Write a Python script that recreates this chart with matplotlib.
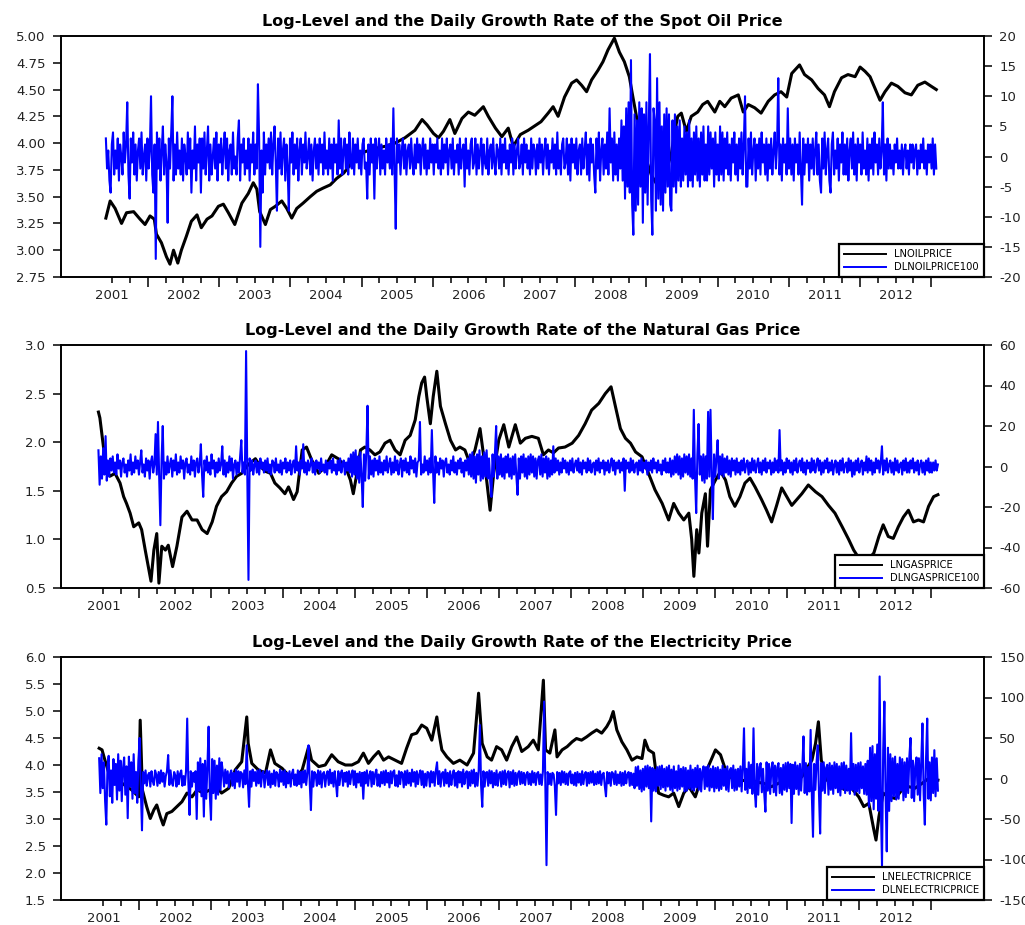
import numpy as np
import matplotlib
matplotlib.use("Agg")
import matplotlib.pyplot as plt
from matplotlib.ticker import FormatStrFormatter

plt.rcParams["font.family"] = ["DejaVu Sans"]
plt.rcParams["axes.unicode_minus"] = False
plt.rcParams["path.simplify"] = False

# ----------------------------
# Log-levels: (position in years, value)
# ----------------------------

LN_OIL = [
    (2000.91, 3.30), (2000.97, 3.46), (2001.04, 3.39), (2001.13, 3.25), (2001.20, 3.35),
    (2001.30, 3.36), (2001.39, 3.29), (2001.46, 3.24), (2001.53, 3.32), (2001.59, 3.29),
    (2001.62, 3.15), (2001.69, 3.07), (2001.76, 2.94), (2001.81, 2.87), (2001.86, 3.00),
    (2001.92, 2.88), (2001.97, 3.00), (2002.04, 3.13), (2002.11, 3.27), (2002.19, 3.33),
    (2002.25, 3.21), (2002.33, 3.29), (2002.40, 3.32), (2002.49, 3.41), (2002.56, 3.43),
    (2002.63, 3.35), (2002.72, 3.24), (2002.82, 3.44), (2002.91, 3.53), (2002.98, 3.63),
    (2003.03, 3.57), (2003.07, 3.36), (2003.15, 3.24), (2003.22, 3.38), (2003.29, 3.41),
    (2003.38, 3.46), (2003.45, 3.39), (2003.52, 3.30), (2003.59, 3.39), (2003.68, 3.44),
    (2003.78, 3.50), (2003.87, 3.55), (2003.96, 3.58), (2004.06, 3.61), (2004.15, 3.67),
    (2004.25, 3.72), (2004.32, 3.78), (2004.41, 3.87), (2004.55, 3.92), (2004.69, 3.95),
    (2004.83, 3.97), (2004.97, 4.00), (2005.11, 4.05), (2005.25, 4.12), (2005.35, 4.22),
    (2005.42, 4.17), (2005.51, 4.09), (2005.58, 4.05), (2005.65, 4.11), (2005.74, 4.22),
    (2005.81, 4.09), (2005.91, 4.23), (2006.00, 4.29), (2006.09, 4.26), (2006.21, 4.34),
    (2006.28, 4.25), (2006.38, 4.14), (2006.47, 4.06), (2006.56, 4.14), (2006.63, 3.97),
    (2006.73, 4.08), (2006.84, 4.12), (2006.93, 4.16), (2007.02, 4.20), (2007.12, 4.28),
    (2007.19, 4.34), (2007.26, 4.25), (2007.35, 4.43), (2007.45, 4.56), (2007.52, 4.59),
    (2007.59, 4.54), (2007.66, 4.48), (2007.73, 4.59), (2007.82, 4.68), (2007.89, 4.76),
    (2007.96, 4.87), (2008.05, 4.98), (2008.12, 4.85), (2008.19, 4.76), (2008.26, 4.62),
    (2008.31, 4.43), (2008.36, 4.25), (2008.40, 4.09), (2008.47, 3.90), (2008.57, 3.70),
    (2008.66, 3.60), (2008.76, 3.70), (2008.85, 3.90), (2008.90, 4.12), (2008.94, 4.25),
    (2008.99, 4.28), (2009.06, 4.11), (2009.13, 4.25), (2009.22, 4.29), (2009.29, 4.36),
    (2009.36, 4.39), (2009.46, 4.29), (2009.53, 4.39), (2009.60, 4.34), (2009.69, 4.42),
    (2009.79, 4.45), (2009.86, 4.29), (2009.93, 4.36), (2010.02, 4.33), (2010.11, 4.28),
    (2010.21, 4.39), (2010.30, 4.45), (2010.39, 4.48), (2010.47, 4.43), (2010.54, 4.65),
    (2010.65, 4.73), (2010.72, 4.64), (2010.82, 4.59), (2010.91, 4.51), (2011.00, 4.45),
    (2011.07, 4.34), (2011.14, 4.48), (2011.24, 4.61), (2011.33, 4.64), (2011.43, 4.62),
    (2011.50, 4.71), (2011.57, 4.67), (2011.64, 4.62), (2011.71, 4.51), (2011.78, 4.40),
    (2011.85, 4.48), (2011.94, 4.56), (2012.03, 4.53), (2012.13, 4.47), (2012.22, 4.45),
    (2012.31, 4.54), (2012.41, 4.57), (2012.50, 4.53), (2012.57, 4.50),
]

LN_GAS = [
    (2000.93, 2.31), (2000.95, 2.25), (2001.00, 1.95), (2001.05, 1.70), (2001.09, 1.65),
    (2001.16, 1.68), (2001.23, 1.58), (2001.28, 1.44), (2001.32, 1.37), (2001.37, 1.27),
    (2001.42, 1.13), (2001.49, 1.17), (2001.53, 1.10), (2001.58, 0.89), (2001.63, 0.69),
    (2001.66, 0.57), (2001.70, 0.89), (2001.74, 1.06), (2001.77, 0.55), (2001.81, 0.93),
    (2001.86, 0.89), (2001.90, 0.94), (2001.96, 0.72), (2002.02, 0.93), (2002.09, 1.23),
    (2002.16, 1.29), (2002.23, 1.20), (2002.30, 1.20), (2002.37, 1.10), (2002.44, 1.06),
    (2002.51, 1.18), (2002.57, 1.34), (2002.64, 1.44), (2002.71, 1.49), (2002.78, 1.58),
    (2002.85, 1.65), (2002.92, 1.68), (2003.01, 1.77), (2003.11, 1.83), (2003.18, 1.75),
    (2003.25, 1.70), (2003.32, 1.68), (2003.38, 1.58), (2003.45, 1.53), (2003.52, 1.47),
    (2003.57, 1.54), (2003.64, 1.41), (2003.69, 1.49), (2003.76, 1.92), (2003.82, 1.95),
    (2003.89, 1.82), (2003.99, 1.68), (2004.08, 1.75), (2004.17, 1.87), (2004.26, 1.83),
    (2004.36, 1.75), (2004.43, 1.61), (2004.47, 1.47), (2004.52, 1.68), (2004.57, 1.92),
    (2004.63, 1.95), (2004.70, 1.92), (2004.77, 1.87), (2004.84, 1.90), (2004.91, 1.99),
    (2004.98, 2.02), (2005.05, 1.92), (2005.12, 1.87), (2005.19, 2.02), (2005.26, 2.07),
    (2005.33, 2.23), (2005.38, 2.47), (2005.42, 2.61), (2005.46, 2.67), (2005.49, 2.47),
    (2005.54, 2.19), (2005.58, 2.47), (2005.63, 2.73), (2005.68, 2.37), (2005.75, 2.19),
    (2005.82, 2.02), (2005.89, 1.92), (2005.95, 1.95), (2006.02, 1.92), (2006.09, 1.78),
    (2006.16, 1.92), (2006.23, 2.14), (2006.30, 1.75), (2006.37, 1.30), (2006.42, 1.68),
    (2006.49, 2.02), (2006.56, 2.18), (2006.63, 1.95), (2006.72, 2.18), (2006.79, 1.99),
    (2006.86, 2.04), (2006.95, 2.06), (2007.04, 2.04), (2007.11, 1.87), (2007.18, 1.92),
    (2007.25, 1.89), (2007.32, 1.94), (2007.41, 1.95), (2007.51, 1.99), (2007.60, 2.07),
    (2007.69, 2.19), (2007.78, 2.33), (2007.88, 2.40), (2007.97, 2.50), (2008.05, 2.57),
    (2008.11, 2.37), (2008.18, 2.14), (2008.25, 2.04), (2008.32, 1.99), (2008.39, 1.90),
    (2008.48, 1.85), (2008.57, 1.68), (2008.66, 1.51), (2008.76, 1.37), (2008.85, 1.20),
    (2008.92, 1.37), (2008.99, 1.27), (2009.06, 1.20), (2009.13, 1.27), (2009.17, 1.00),
    (2009.20, 0.62), (2009.24, 1.10), (2009.27, 0.86), (2009.31, 1.27), (2009.36, 1.47),
    (2009.39, 0.93), (2009.43, 1.51), (2009.50, 1.61), (2009.57, 1.70), (2009.64, 1.61),
    (2009.70, 1.44), (2009.77, 1.34), (2009.84, 1.44), (2009.91, 1.58), (2009.98, 1.63),
    (2010.05, 1.54), (2010.14, 1.41), (2010.21, 1.30), (2010.28, 1.18), (2010.35, 1.35),
    (2010.42, 1.53), (2010.49, 1.44), (2010.56, 1.35), (2010.63, 1.41), (2010.70, 1.47),
    (2010.79, 1.56), (2010.89, 1.49), (2010.98, 1.44), (2011.07, 1.35), (2011.16, 1.27),
    (2011.26, 1.13), (2011.35, 1.00), (2011.42, 0.89), (2011.49, 0.81), (2011.56, 0.78),
    (2011.63, 0.80), (2011.70, 0.86), (2011.77, 1.03), (2011.83, 1.15), (2011.90, 1.03),
    (2011.97, 1.01), (2012.04, 1.13), (2012.11, 1.23), (2012.18, 1.30), (2012.25, 1.18),
    (2012.32, 1.20), (2012.39, 1.18), (2012.46, 1.34), (2012.53, 1.44), (2012.59, 1.46),
]

LN_ELEC = [
    (2000.94, 4.31), (2000.98, 4.28), (2001.02, 4.09), (2001.09, 3.78), (2001.26, 3.66),
    (2001.39, 3.54), (2001.49, 3.41), (2001.51, 4.83), (2001.54, 3.54), (2001.60, 3.23),
    (2001.65, 3.01), (2001.70, 3.17), (2001.74, 3.26), (2001.79, 3.04), (2001.83, 2.89),
    (2001.88, 3.10), (2001.95, 3.14), (2002.02, 3.23), (2002.09, 3.32), (2002.16, 3.48),
    (2002.23, 3.41), (2002.30, 3.54), (2002.39, 3.48), (2002.48, 3.54), (2002.57, 3.60),
    (2002.64, 3.48), (2002.74, 3.57), (2002.83, 3.91), (2002.92, 4.06), (2002.99, 4.89),
    (2003.01, 4.40), (2003.06, 4.03), (2003.15, 3.91), (2003.25, 3.85), (2003.32, 4.28),
    (2003.38, 4.03), (2003.48, 3.94), (2003.57, 3.81), (2003.66, 3.75), (2003.76, 3.91),
    (2003.85, 4.34), (2003.89, 4.09), (2003.99, 3.97), (2004.08, 4.00), (2004.17, 4.19),
    (2004.26, 4.06), (2004.36, 4.00), (2004.45, 4.00), (2004.54, 4.06), (2004.61, 4.22),
    (2004.68, 4.03), (2004.75, 4.15), (2004.82, 4.25), (2004.89, 4.09), (2004.96, 4.15),
    (2005.05, 4.09), (2005.14, 4.03), (2005.21, 4.31), (2005.28, 4.56), (2005.35, 4.59),
    (2005.42, 4.74), (2005.49, 4.68), (2005.56, 4.46), (2005.63, 4.89), (2005.66, 4.59),
    (2005.70, 4.28), (2005.77, 4.15), (2005.86, 4.03), (2005.95, 4.09), (2006.05, 4.00),
    (2006.14, 4.22), (2006.21, 5.33), (2006.26, 4.40), (2006.33, 4.15), (2006.39, 4.09),
    (2006.46, 4.34), (2006.53, 4.28), (2006.60, 4.09), (2006.67, 4.34), (2006.74, 4.52),
    (2006.81, 4.25), (2006.90, 4.34), (2006.97, 4.46), (2007.04, 4.28), (2007.11, 5.57),
    (2007.14, 4.28), (2007.20, 4.22), (2007.27, 4.65), (2007.30, 4.15), (2007.37, 4.28),
    (2007.44, 4.34), (2007.51, 4.43), (2007.57, 4.49), (2007.64, 4.46), (2007.71, 4.52),
    (2007.78, 4.59), (2007.85, 4.65), (2007.92, 4.59), (2007.99, 4.71), (2008.04, 4.83),
    (2008.08, 4.99), (2008.13, 4.65), (2008.20, 4.43), (2008.27, 4.28), (2008.34, 4.09),
    (2008.41, 4.15), (2008.48, 4.12), (2008.52, 4.46), (2008.57, 4.28), (2008.64, 4.22),
    (2008.71, 3.48), (2008.78, 3.44), (2008.85, 3.41), (2008.92, 3.48), (2008.99, 3.23),
    (2009.06, 3.48), (2009.13, 3.60), (2009.22, 3.41), (2009.31, 3.78), (2009.40, 3.97),
    (2009.50, 4.28), (2009.57, 4.19), (2009.64, 3.91), (2009.73, 3.75), (2009.87, 3.72),
    (2009.96, 3.69), (2010.05, 3.69), (2010.17, 3.66), (2010.28, 3.60), (2010.42, 3.69),
    (2010.56, 3.72), (2010.70, 3.78), (2010.84, 4.09), (2010.89, 4.40), (2010.93, 4.80),
    (2010.97, 4.09), (2011.05, 3.72), (2011.12, 3.63), (2011.21, 3.60), (2011.30, 3.54),
    (2011.39, 3.57), (2011.49, 3.41), (2011.56, 3.23), (2011.63, 3.29), (2011.70, 2.80),
    (2011.73, 2.61), (2011.77, 3.04), (2011.83, 3.48), (2011.90, 3.41), (2012.00, 3.38),
    (2012.09, 3.54), (2012.18, 3.60), (2012.27, 3.57), (2012.37, 3.66), (2012.46, 3.75),
    (2012.59, 3.72),
]

# ----------------------------
# Growth rates (x100), equally spaced between first and last date
# ----------------------------

DL_OIL_SPAN = (2000.91, 2012.57)
DL_OIL = [
    3, -2, 1, -4, -6, 2, 4, -3, 1, -2, 3, -4, 2, 0, -3, 4, -1, 2, 9, -3,
    -7, 3, -1, 4, -3, 2, -4, 1, 3, -2, 4, -3, 0, 2, -4, 3, -2, 1, 10, -3,
    -6, 2, -17, 4, -2, 3, -4, 1, 5, -3, 2, -1, -11, 3, -2, 4, 10, -4, 2, -3,
    4, -2, 1, -3, 3, -4, 2, 0, -3, 4, -2, 3, -6, 1, -2, 5, -4, 2, -1, 3,
    -6, 3, -2, 4, -3, 1, 5, -4, 2, -3, 0, 3, -2, 4, -4, 2, -1, 3, -3, 1,
    4, -2, 3, -4, 1, 2, -3, 4, -2, 0, -3, 3, 6, -4, 2, -1, 3, -3, 1, -2,
    3, -4, 2, -1, 4, -3, 2, -2, 12, 3, -15, 1, -6, 4, -3, 2, -1, 3, -2, 4,
    -3, 2, 5, -1, -9, 3, -2, 4, -3, 1, 3, -4, 2, -2, -9, 3, -1, 4, -3, 2,
    -2, 3, -4, 1, 3, -3, 2, -1, 4, -2, 0, 3, -3, 2, -4, 1, 3, -2, 2, -3,
    3, -1, 2, -3, 4, -2, 1, -3, 3, -2, 2, -4, 3, -1, 2, -3, 6, -2, 3, -3,
    1, 3, -2, 2, -3, 4, -1, -2, 3, -3, 2, -1, 3, -2, 1, -3, 2, 3, -2, -1,
    -7, 2, -3, 3, -1, 2, -7, 3, -2, 1, 3, -3, 2, -2, 1, -3, 3, -1, 2, -2,
    3, -3, 8, -2, -12, 3, -1, 2, -3, 1, 3, -2, 2, -3, 1, 2, -2, 3, -1, -3,
    2, -2, 3, -1, 2, -3, 1, 3, -2, 2, -3, 1, -2, 3, -1, 2, -3, 2, -1, 3,
    -2, 1, -3, 3, -2, 2, -1, 3, -3, 1, 2, -2, 3, -3, 1, -1, 2, -3, 3, -2,
    1, 2, -5, 3, -2, 1, -3, 2, 3, -2, -1, 3, -3, 2, -2, 1, 3, -3, 2, -1,
    -2, 3, -3, 1, 2, -2, 3, -1, -3, 2, 1, -2, 3, -3, 2, -1, 3, -2, 1, -3,
    2, -1, 3, -3, 2, -2, 1, 3, -2, -1, 2, -3, 3, -1, 2, -2, 1, -3, 3, -2,
    2, 1, -3, 2, -2, 3, -1, 2, -3, 1, 3, -2, 2, -3, 1, -1, 3, -2, 2, -3,
    4, -2, 1, -3, 2, 3, -2, -1, 3, -3, 2, -4, 3, -1, 2, -2, 3, -3, 1, 2,
    -3, 3, -2, 1, 4, -3, 2, -4, 3, -1, 2, -3, -6, 3, -2, 4, -4, 1, 3, -3,
    2, -2, 4, -3, 8, -1, 3, -4, 4, -3, 2, -4, 3, -2, 6, -4, 5, -7, 8, -5,
    9, -6, 16, -8, -13, 7, -9, 6, -8, 9, -5, 8, -11, 7, -6, 9, -8, 5, 17, -7,
    -13, 8, 6, -9, 13, -7, 9, -8, 5, -9, 7, -6, 8, -5, 7, -8, -9, 6, -5, 7,
    -6, 5, -4, 6, -5, 3, -4, 5, -3, 4, -5, 6, -4, 3, -5, 4, -3, 5, -4, 3,
    -5, 4, -3, 5, -4, 2, -4, 5, -3, 4, -2, 3, -5, 4, -3, 2, -4, 5, -3, 4,
    -4, 3, -2, 4, -3, 2, -4, 3, -1, 4, -3, 2, -4, 3, -2, 4, -3, 2, 10, -5,
    -5, 3, -2, 4, -3, 1, 3, -4, 2, -2, 3, -3, 4, -1, 2, -3, 3, -4, 2, -2,
    3, -3, 1, 4, -2, 2, 13, -3, 2, -4, 3, -1, 2, -3, 8, -2, 3, -3, 2, -4,
    3, -1, 2, -3, 4, -2, -8, 3, -3, 2, -1, 3, -4, 2, -2, 3, -3, 1, 4, -3,
    2, -4, -6, 3, -2, 4, -3, 1, 3, -4, -6, 2, 4, -3, 1, -2, 3, -4, 2, -1,
    4, -3, 2, -3, 3, -4, 1, 3, -2, 4, -3, 2, -4, 3, -1, 2, -3, 4, -2, 1,
    -3, 3, -4, 2, -2, 3, -3, 4, -1, 2, -3, 3, -2, 1, 9, -3, 2, -4, 3, -2,
    2, -2, 1, -3, 2, -1, 3, -2, 1, -2, 2, -3, 1, 2, -2, 1, -3, 2, -1, 2,
    -2, 1, 2, -3, 1, -2, 2, -1, 3, -2, 1, -3, 2, -1, 2, -2, 3, -3, 2, -2,
]

DL_GAS_SPAN = (2000.93, 2012.59)
DL_GAS = [
    8, -9, 5, -6, 9, -4, 15, -7, 3, -5, 4, -2, 5, -3, 2, -4, 6, -1, 3, -5,
    2, 4, -3, 1, -5, 3, -2, 6, -4, 2, -3, 5, -1, 3, -4, 2, 8, -3, 1, -5,
    4, -2, 3, -6, 2, 5, -3, 1, 16, -4, 22, -5, -29, 3, 20, -6, 2, -4, 5, -3,
    1, 4, -5, 3, -2, 6, -4, 2, -3, 5, -1, 3, -6, 2, 4, -3, 1, -4, 5, -2,
    3, -5, 2, 4, -3, 1, 11, -4, -15, 3, -2, 5, -3, 2, -4, 6, -1, 3, -5, 2,
    -3, 4, -2, 1, 10, -4, 3, -5, 2, -3, 5, -2, 4, -6, 1, 3, -4, 2, -3, 5,
    13, -3, 2, -4, 57, -3, -56, 4, -2, 3, -4, 1, 3, -3, 2, -4, 4, -1, 2, -3,
    3, -2, 4, -3, 1, -4, 3, 2, -3, 4, -2, 1, -3, 3, -4, 2, -1, 4, -3, 2,
    -2, 3, -4, 1, 3, -3, 10, -2, 2, -4, 3, -1, 11, -3, 2, -4, 3, -2, 1, 4,
    -3, 2, -4, 3, -1, 2, -3, 4, -2, 1, -3, 3, -4, 2, -1, 3, -3, 4, -2, 1,
    -4, 3, -2, 4, -3, 1, 3, -4, 2, -2, 4, -3, 6, -5, 7, -4, 8, -6, 5, -8,
    7, -5, -20, 6, -7, 8, 30, -6, 5, -4, 3, -5, 4, -2, 3, -4, 5, -3, 2, -4,
    3, -2, 5, -3, 1, 4, -4, 2, -3, 5, -2, 3, -4, 1, 4, -5, 3, -2, 4, -3,
    2, -4, 5, -1, 3, -3, 4, -5, 2, 3, 22, -4, 1, -3, 5, -2, 3, -4, 4, -3,
    18, -2, -18, 5, -3, 2, -4, 4, -1, 3, -5, 2, 4, -3, 1, -4, 3, -2, 5, -3,
    2, -4, 3, -1, 4, -3, 2, -5, 3, -2, 4, -4, 6, -5, 7, -6, 5, -8, 6, -4,
    8, -7, 5, -6, 7, -5, 8, -6, 4, -7, -15, 6, -5, 7, 20, -6, 5, -4, 6, -5,
    4, -6, 5, -3, 6, -5, 4, -6, 5, -4, 6, -5, -14, 4, -6, 5, -3, 6, -5, 4,
    -6, 5, -4, 6, -3, 5, -5, 4, -6, 3, 5, -4, 6, -5, 4, -3, 5, -6, 4, -5,
    3, -4, 10, -3, 4, -2, 3, -4, 2, -3, 4, -1, 3, -3, 2, -4, 3, -2, 4, -3,
    1, 3, -2, 4, -3, 2, -4, 3, -1, 2, -3, 4, -2, 3, -3, 1, 2, -4, 3, -2,
    4, -3, 2, -1, 3, -4, 2, -2, 3, -3, 1, 4, -2, 3, -4, 2, -1, 3, -3, 2,
    -2, 4, -12, 3, -1, 2, -3, 4, -2, 3, -3, 1, 2, -4, 3, -2, 4, -3, 2, -1,
    3, -4, 2, -2, 3, -3, 4, -1, 2, -3, 3, -2, 1, -4, 3, -2, 4, -3, 2, -3,
    4, -5, 3, -4, 5, -3, 6, -4, 5, -6, 4, -5, 6, -3, 5, -4, 6, -5, 4, -6,
    28, -5, -23, 6, 21, -4, 5, -7, 6, -8, 5, -6, 27, -5, 28, -4, -26, 6, -5, 4,
    13, -6, 5, -4, 6, -5, 4, -3, 5, -4, 3, -5, 4, -2, 3, -4, 4, -3, 2, -4,
    3, -2, 4, -3, 1, 3, -4, 2, -3, 4, -2, 3, -3, 1, 4, -3, 2, -4, 3, -2,
    4, -3, 2, -1, 3, -4, 2, -3, 4, -2, 3, -3, 18, -2, 3, -4, 2, -3, 4, -1,
    3, -3, 2, -4, 3, -2, 4, -3, 1, 3, -2, 4, -3, 2, -4, 3, -1, 2, -3, 4,
    -2, 3, -3, 1, 4, -2, 3, -4, 2, -3, 3, -1, 4, -3, 2, -2, 3, -4, 1, 3,
    -3, 2, -4, 3, -2, 4, -3, 1, 2, -3, 4, -2, 3, -5, 2, -4, 3, -2, 4, -3,
    1, 3, -4, 2, -2, 5, -3, 4, -2, 3, -4, 2, -3, 4, -1, 3, -3, 2, 10, -4,
    3, -2, 4, -3, 1, 3, -3, 2, -4, 4, -2, 3, -3, 1, 2, -4, 3, -2, 4, -3,
    2, -3, 3, -1, 4, -3, 2, -2, 3, -4, 1, 3, -3, 2, -4, 3, -2, 4, -3, 2,
    -3, 2, -2, 3, -2, 1,
]

DL_ELEC_SPAN = (2000.94, 2012.59)
DL_ELEC = [
    25, -18, 30, -12, 20, -28, -57, 15, 28, -22, 10, -30, 24, -8, 18, -26, 30, -15, 22, -28,
    12, 26, -20, 15, -49, 27, -10, 20, -25, 30, -18, 8, -30, 22, 50, -12, -64, 8, -6, 10,
    -9, 4, 7, -10, 9, -3, -8, 10, 5, -9, 8, -6, 10, -4, 7, -10, 3, 9, 29, -8,
    10, -5, -9, 8, 4, -10, 9, -7, 6, 10, -9, 3, -8, 9, 74, -6, -45, 9, -10, 7,
    -4, 9, -50, 20, -15, 25, -22, 18, -47, 22, -25, 15, 64, -20, -51, 24, -18, 22, -25, 16,
    -20, 25, -14, 20, 8, -10, 11, -6, 9, -11, 5, 10, -9, 7, -12, 11, -4, 9, -10, 8,
    6, -11, 10, -7, 41, -5, -35, 9, -10, 11, -3, 8, -9, 10, -6, 11, -10, 7, 9, -11,
    4, 10, -8, 9, -11, 6, -7, 10, -9, 8, 5, -10, 11, -4, 9, -8, 10, -11, 7, -6,
    9, -10, 6, 11, -8, 5, -9, 10, -7, 8, -11, 9, -5, 10, -8, 7, 41, -6, -39, 9,
    -10, 8, 5, -9, 10, -7, 9, -11, 6, 8, -10, 4, 9, -8, 11, -6, 7, -10, 9, -5,
    -22, 9, -8, 6, 10, -9, 7, -4, 8, -10, 9, -7, 5, 10, -8, 9, -11, 6, -5, 8,
    -9, 7, -25, 8, -6, 10, -9, 4, 9, -10, 8, -7, 6, 11, -9, 5, -10, 8, -6, 9,
    -8, 10, -5, 7, -11, 9, -6, 8, 10, -9, 4, -10, 9, -7, 8, 6, -11, 9, -8, 10,
    -6, 7, -9, 11, -4, 8, -10, 9, -7, 5, 10, -8, 9, -11, 6, -9, 8, 7, -10, 9,
    -5, 8, -9, 10, 20, -7, 9, -10, 6, 8, -9, 11, -6, 7, -10, 9, -8, 4, 10, -9,
    7, -11, 9, -5, 8, -10, 11, -7, 6, 9, -12, 8, -9, 10, -6, 11, -10, 7, -9, 10,
    66, -8, -35, 9, -10, 7, 8, -9, 10, -6, 9, -11, 7, -8, 10, -9, 5, 8, -10, 9,
    -7, 10, -8, 6, 9, -11, 8, -7, 10, -9, 7, -8, 6, 9, -7, 8, -6, 7, -8, 5,
    8, -7, 6, -8, 9, -5, 7, -8, 6, 8, -7, 5, -8, 9, 95, -6, -107, 8, -7, 6,
    -8, 7, 5, -9, -45, 8, -6, 7, -8, 9, -5, 8, -7, 6, -8, 7, 9, -6, 5, -8,
    7, -9, 8, -5, 6, -8, 9, -7, 5, 8, -9, 7, -6, 8, -5, 9, -8, 6, -7, 8,
    -6, 9, -8, 5, 7, -9, -22, 8, -6, 7, -9, 8, 6, -7, 9, -8, 5, -6, 8, -9,
    7, -8, 9, -6, 5, 8, -9, 7, -8, 6, -12, 14, -9, 15, -13, 10, -16, 12, -14, 15,
    -10, 16, -12, 14, -53, 13, -15, 11, -16, 14, -9, 15, -13, 16, -11, 12, -15, 14, -10, 16,
    -14, 11, -16, 15, -12, 9, -15, 16, -13, 12, -10, 14, -16, 13, -15, 10, -12, 16, -14, 11,
    -15, 13, -11, 16, -14, 12, -16, 9, 15, -13, 14, -10, 16, -15, 12, -11, 15, -16, 13, -12,
    14, -15, 11, -13, 16, -9, 12, -14, 15, -16, 10, 13, -12, 16, -15, 11, -14, 12, -10, 15,
    -16, 13, 62, -14, 12, -18, 20, -12, 17, -19, 62, -15, -35, 18, -20, 14, 19, -17, 12, -18,
    -41, 20, -15, 18, -19, 12, 20, -17, 16, -21, 14, 19, -18, 13, -20, 17, -14, 19, -16, 20,
    -12, 18, -55, 17, -19, 20, -13, 16, -20, 18, -15, 12, 52, -18, 19, -20, 14, -16, 60, -19,
    -72, 18, -14, 20, 41, -17, -68, 19, -15, 20, -18, 13, 17, -20, 19, -14, 16, -19, 20, -12,
    18, -17, 15, -21, 19, -13, 20, -18, 16, -15, 12, -19, 56, -14, 18, -20, 17, -16, 19, -18,
    20, -12, 15, -19, 18, -20, 22, -35, 38, -28, 40, -38, 30, -25, 42, -40, 126, -30, -107, 35,
    95, -20, -90, 38, -40, 30, -28, 25, -22, 27, -26, 18, -25, 26, -15, 24, -27, 20, -23, 25,
    -18, 27, 50, -24, 22, -28, 15, 26, -20, 25, -27, 21, 68, -19, -57, 24, 74, -25, 20, -27,
    26, -18, 35, -22, 25, -15,
]

# ----------------------------
# Panel settings
# ----------------------------

TITLES = [
    "Log-Level and the Daily Growth Rate of the Spot Oil Price",
    "Log-Level and the Daily Growth Rate of the Natural Gas Price",
    "Log-Level and the Daily Growth Rate of the Electricity Price",
]
NAMES = [
    ("LNOILPRICE", "DLNOILPRICE100"),
    ("LNGASPRICE", "DLNGASPRICE100"),
    ("LNELECTRICPRICE", "DLNELECTRICPRICE"),
]
LEFT_TICKS = [np.arange(2.75, 5.01, 0.25), np.arange(0.5, 3.01, 0.5), np.arange(1.5, 6.01, 0.5)]
LEFT_FMT = ["%.2f", "%.1f", "%.1f"]
RIGHT_TICKS = [np.arange(-20, 21, 5), np.arange(-60, 61, 20), np.arange(-150, 151, 50)]
XLIMS = [(2000.28, 2013.24), (2000.41, 2013.23), (2000.41, 2013.23)]

W, H = 1025, 925
# axes boxes in pixels: left, top, right, bottom
BOXES = [(61, 36, 984, 277), (61, 345, 984, 588), (61, 657, 984, 900)]


def draw_panel(fig, i, level, span, growth):
    l, t, r, b = BOXES[i]
    ax = fig.add_axes([l / W, 1 - b / H, (r - l) / W, (b - t) / H])
    lt = [p[0] for p in level]
    lv = [p[1] for p in level]
    ax.plot(lt, lv, color="black", lw=2.2, label=NAMES[i][0])

    ax2 = ax.twinx()
    gt = np.linspace(span[0], span[1], len(growth))
    ax2.plot(gt, growth, color="#0000ff", lw=1.5, label=NAMES[i][1])

    ax.set_xlim(*XLIMS[i])
    ax.set_ylim(LEFT_TICKS[i][0], LEFT_TICKS[i][-1])
    ax2.set_ylim(RIGHT_TICKS[i][0], RIGHT_TICKS[i][-1])

    quarters = np.arange(2001.0, 2012.51, 0.25)
    long_ticks = [q for q in quarters if abs(q % 1 - 0.5) < 1e-6]
    short_ticks = [q for q in quarters if abs(q % 1 - 0.5) > 1e-6]
    ax.set_xticks(long_ticks)
    ax.set_xticklabels([])
    ax.set_xticks(short_ticks, minor=True)
    ax.set_xticklabels([str(int(q)) if q % 1 == 0 else "" for q in short_ticks], minor=True)
    ax.tick_params(axis="x", which="major", length=7.5, width=1.1, direction="out")
    ax.tick_params(axis="x", which="minor", length=4.5, width=1.1, direction="out",
                   labelsize=9.5, pad=4, labelcolor="#222222")

    ax.set_yticks(LEFT_TICKS[i])
    ax.yaxis.set_major_formatter(FormatStrFormatter(LEFT_FMT[i]))
    ax.tick_params(axis="y", length=6, width=1.1, direction="out", labelsize=9.5,
                   pad=5, labelcolor="#222222")
    ax2.set_yticks(RIGHT_TICKS[i])
    ax2.tick_params(axis="y", length=6, width=1.1, direction="out", labelsize=9.5,
                    pad=5, labelcolor="#222222")

    for a in (ax, ax2):
        for s in a.spines.values():
            s.set_linewidth(1.2)

    ax.set_title(TITLES[i], fontsize=11.5, fontweight="bold", pad=7)

    h1, l1 = ax.get_legend_handles_labels()
    h2, l2 = ax2.get_legend_handles_labels()
    leg = ax2.legend(h1 + h2, l1 + l2, loc="lower right", bbox_to_anchor=(1, 0),
                     borderaxespad=0, fancybox=False, framealpha=1, edgecolor="black",
                     fontsize=7.2, handlelength=4.2, handletextpad=0.8,
                     borderpad=0.5, labelspacing=0.3)
    leg.get_frame().set_linewidth(1.6)
    for line in leg.get_lines():
        line.set_linewidth(1.4)


fig = plt.figure(figsize=(W / 100, H / 100), dpi=100)
draw_panel(fig, 0, LN_OIL, DL_OIL_SPAN, DL_OIL)
draw_panel(fig, 1, LN_GAS, DL_GAS_SPAN, DL_GAS)
draw_panel(fig, 2, LN_ELEC, DL_ELEC_SPAN, DL_ELEC)
fig.savefig("out.png", dpi=100)
